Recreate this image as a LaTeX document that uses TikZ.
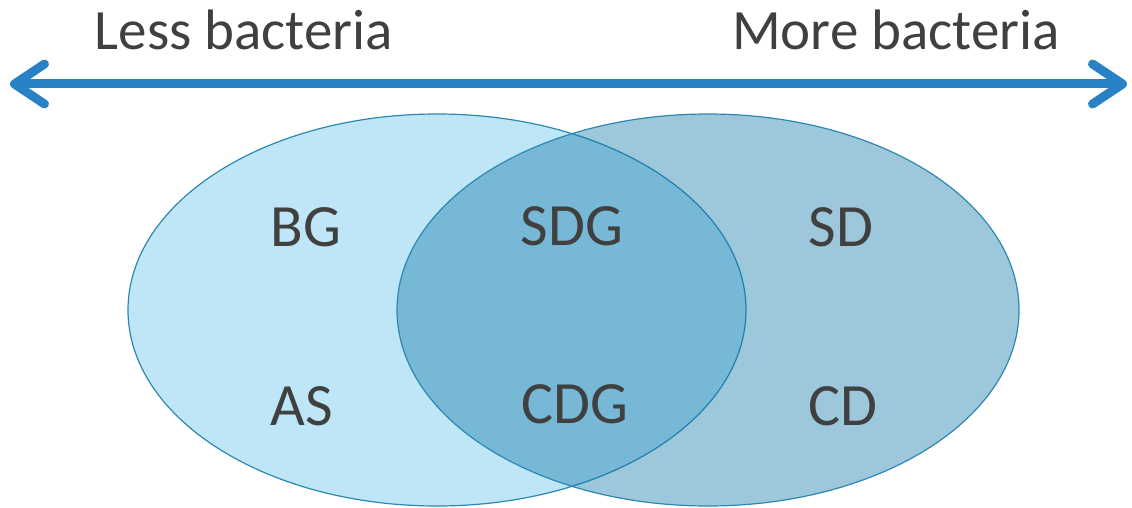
\documentclass[tikz,border=0pt]{standalone}
\usepackage{fontspec}
\setmainfont{Carlito}
\usetikzlibrary{arrows.meta}
\definecolor{leftfill}{HTML}{BEE6F7}
\definecolor{rightfill}{HTML}{0A75A5}
\definecolor{rim}{HTML}{2C88B2}
\definecolor{arrowblue}{HTML}{2A82C6}
\definecolor{txt}{HTML}{404040}
\tikzset{
  lbl/.style={anchor=base, text=txt, font=\fontsize{60}{60}\selectfont, inner sep=0pt},
  ttl/.style={anchor=base, text=txt, font=\fontsize{57}{57}\selectfont, inner sep=0pt},
  axis/.style={draw=arrowblue, line width=9pt, line cap=round,
    {Straight Barb[length=30pt, width=40pt, round]}-{Straight Barb[length=30pt, width=40pt, round]}}
}
\begin{document}
\begin{tikzpicture}[x=1pt,y=-1pt]
\useasboundingbox (0,0) rectangle (1132,508);
\draw[fill=leftfill, draw=rim, line width=1.2pt] (437,310) ellipse [x radius=309, y radius=196];
\draw[fill=rightfill, fill opacity=0.4, draw=rim, line width=1.2pt] (708,310) ellipse [x radius=311, y radius=196];
\coordinate (L) at (10,84);
\coordinate (R) at (1127,84);
\draw[axis] (L) -- (R);
\node[ttl] (less) at (244,50) {Less bacteria};
\node[ttl] (more) at (896,50) {More bacteria};
\node[lbl] (bg) at (306,246) {BG};
\node[lbl] (as) at (302,425) {AS};
\node[lbl] (sdg) at (572,245) {SDG};
\node[lbl] (cdg) at (575,423) {CDG};
\node[lbl] (sd) at (841,246) {SD};
\node[lbl] (cd) at (843,425) {CD};
\end{tikzpicture}
\end{document}
